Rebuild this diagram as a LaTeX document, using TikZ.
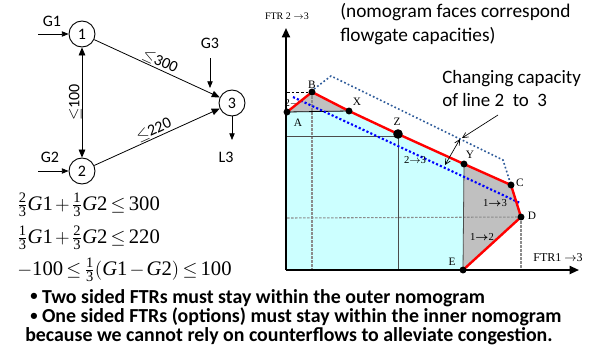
\documentclass[tikz,border=0pt]{standalone}
\usepackage{amsmath}
\usepackage{fontspec}
\setmainfont{Liberation Serif}
\newfontfamily\calibri{Carlito}
\usetikzlibrary{arrows.meta,positioning,calc}
\definecolor{NomoCyan}  {HTML}{CCFFFF}
\definecolor{FaceGray}  {HTML}{C0C0C0}
\definecolor{LimitRed}  {HTML}{FF0000}
\definecolor{InnerBlue} {HTML}{0000FF}
\definecolor{OuterBlue} {HTML}{2F5C9A}
\definecolor{GridGray}  {HTML}{8C8C8C}
\newcommand{\ffrac}[2]{\tfrac{\text{#1}}{\text{#2}}}
\newcommand{\gv}[1]{\text{\textit{G}#1}}
\newcommand{\tighteq}{\medmuskip=2mu\relax\thickmuskip=3mu\relax}
\newcommand{\smallbullet}{\raisebox{0.12em}{\fontsize{11}{11}\selectfont\textbullet}}
\tikzset{
  bus/.style={circle,draw,line width=0.7pt,minimum size=19.5pt,inner sep=0pt,
              font=\calibri\fontsize{12}{12}\selectfont},
  netlbl/.style={font=\calibri\fontsize{12}{12}\selectfont,inner sep=1pt},
  flow/.style={line width=0.6pt,-{Triangle[length=6pt,width=5pt]}},
  inj/.style={line width=0.6pt,-{Triangle[length=5pt,width=4pt]}},
  eqn/.style={font=\fontsize{15.5}{17}\selectfont,anchor=west,inner sep=0pt},
  ptlbl/.style={font=\fontsize{8.5}{9}\selectfont,inner sep=0pt},
  axlbl/.style={font=\fontsize{8}{9}\selectfont,inner sep=0pt},
  note/.style={font=\calibri\fontsize{14.5}{18}\selectfont,align=left,inner sep=0pt},
  bulletline/.style={font=\calibri\bfseries\fontsize{14.9}{16}\selectfont,
                     anchor=west,inner sep=0pt},
  axis/.style={line width=1.4pt,-{Triangle[length=7pt,width=6pt]}},
  limit/.style={draw=LimitRed,line width=1.8pt,line join=round},
  innernomo/.style={draw=InnerBlue,line width=1.6pt,dash pattern=on 1.6pt off 1.6pt},
  outernomo/.style={draw=OuterBlue,line width=1.2pt,dash pattern=on 1.3pt off 1.7pt},
  guide/.style={draw=GridGray,line width=0.8pt,dash pattern=on 2pt off 1pt},
  thinarr/.style={line width=0.5pt,-{Straight Barb[length=4pt,width=4pt]}},
}
\begin{document}
\begin{tikzpicture}[x=0.75pt,y=-0.75pt]
\useasboundingbox (0,0) rectangle (603,358);

% three-bus network
\node[bus] (n1) at (82,34)  {1};
\node[bus] (n2) at (82,171) {2};
\node[bus] (n3) at (232,103) {3};

\node[netlbl] (g1) at (52,21)  {G1};
\node[netlbl] (g2) at (50,157) {G2};
\node[netlbl] (g3) at (210,43) {G3};
\node[netlbl] (l3) at (226,157) {L3};

\coordinate (g1in) at (38,34);
\coordinate (g2in) at (38,171);
\coordinate (g3top) at (210,58);
\coordinate (g3end) at (210,88);
\coordinate (l3end) at (232,140);
\draw[inj] (g1in) -- (n1);
\draw[inj] (g2in) -- (n2);
\draw[inj] (g3top) -- (g3end);
\draw[inj] (n3) -- (l3end);

\draw[flow] (n1) -- (n3) node[midway,sloped,above,netlbl,inner sep=0.5pt] {$\le$300};
\draw[flow] (n2) -- (n3) node[midway,sloped,above,netlbl,inner sep=0.5pt] {$\le$220};
\draw[flow,{Triangle[length=6pt,width=5pt]}-{Triangle[length=6pt,width=5pt]}]
  (n1) -- (n2) node[midway,rotate=90,anchor=south,netlbl,inner sep=0pt] {$\le$100};

% flowgate constraints
\node[eqn] (eq1) at (17,205) {$\tighteq\ffrac23\gv1+\ffrac13\gv2\le\text{300}$};
\node[eqn] (eq2) at (17,238) {$\tighteq\ffrac13\gv1+\ffrac23\gv2\le\text{220}$};
\node[eqn] (eq3) at (17,270) {$\tighteq-\text{100}\le\ffrac13(\gv1-\gv2)\le\text{100}$};

% nomogram
\coordinate (O) at (286,270);
\coordinate (A) at (287,112);
\coordinate (B) at (312,92);
\coordinate (X) at (349,111);
\coordinate (Z) at (398,134);
\coordinate (Y) at (464,164);
\coordinate (C) at (511,185);
\coordinate (D) at (521,217);
\coordinate (E) at (463,270);

\node[axlbl] (two) at (293,103) {2$\rightarrow$};
\fill[NomoCyan] (A) -- (X) -- (Y) -- (E) -- (O) -- cycle;
\fill[FaceGray] (A) -- (B) -- (X) -- cycle;
\fill[FaceGray] (Y) -- (C) -- (D) -- (E) -- cycle;

\draw[dashed,line width=0.6pt,dash pattern=on 2pt off 1.5pt] (287,92) -- (B);
\draw[guide] (B) -- (B |- O);
\draw[guide] (287,218) -- (D);
\draw[guide] (D) -- (D |- O);
\draw[line width=0.6pt] (A) -- (X);
\draw[line width=0.6pt,draw=black!70] (287,136) -- (Z |- 0,136);
\draw[line width=0.6pt,draw=black!70] (Z) -- (Z |- O);
\draw[line width=0.6pt,draw=black!70] (Y) -- (E);

\draw[outernomo] (314,89) -- (331,76) -- (503,160) -- (C);
\draw[innernomo] (293,97) -- (520,203);
\draw[limit] (A) -- (B) -- (X) -- (Z) -- (Y) -- (C) -- (D) -- (E);

\foreach \p in {A,B,X,Y,C,D,E}
  \fill (\p) circle (2.6pt);
\fill (Z) circle (3.6pt);

\node[ptlbl] (la) at (298,123) {A};
\node[ptlbl] (lb) at (312,85)  {B};
\node[ptlbl] (lx) at (357,102) {X};
\node[ptlbl] (lz) at (397,122) {Z};
\node[ptlbl] (ly) at (470,155) {Y};
\node[ptlbl] (lc) at (520,183) {C};
\node[ptlbl] (ld) at (532,216) {D};
\node[ptlbl] (le) at (452,262) {E};
\node[axlbl] (f23) at (415,160) {2$\rightarrow$3};
\node[axlbl] (f13) at (495,203) {1$\boldsymbol{\rightarrow}$3};
\node[axlbl] (f12) at (482,237) {1$\boldsymbol{\rightarrow}$2};

\draw[axis] (O) -- (286,28);
\draw[axis] (O) -- (579,270);
\node[axlbl,font=\fontsize{7.5}{8}\selectfont] (yl) at (287,16) {FTR 2 $\rightarrow$3};
\node[axlbl,font=\fontsize{9}{10}\selectfont] (xl) at (558,258) {FTR1 $\rightarrow$3};

% capacity change
\coordinate (capout) at (460,139);
\coordinate (capin) at (445,165);
\draw[thinarr,{Straight Barb[length=4pt,width=4pt]}-{Straight Barb[length=4pt,width=4pt]}]
  (capout) -- (capin);
\node[note,anchor=north west] (faces) at (340,3)
  {(nomogram faces correspond\\flowgate capacities)};
\node[note,anchor=north west,font=\calibri\fontsize{14.2}{17}\selectfont] (capnote) at (442,70)
  {Changing capacity\\of line 2\ \ to\ \ 3};
\coordinate (capfrom) at (498,115);
\draw[thinarr] (capfrom) -- (462,138);

% remarks
\node[bulletline] (r1) at (30,298) {\smallbullet\ Two sided FTRs must stay within the outer nomogram};
\node[bulletline] (r2) at (30,317) {\smallbullet\ One sided FTRs (options) must stay within the inner nomogram};
\node[bulletline] (r3) at (25,336) {because we cannot rely on counterflows to alleviate congestion.};

\end{tikzpicture}
\end{document}
